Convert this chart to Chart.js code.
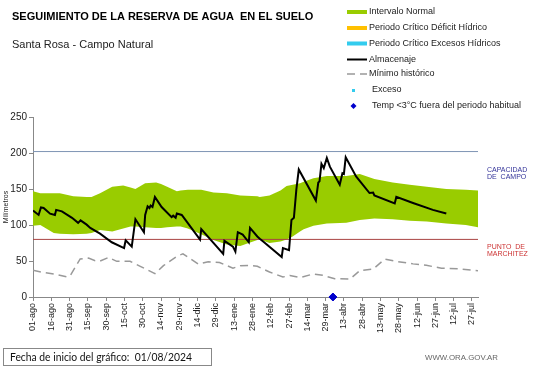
<!DOCTYPE html>
<html>
<head>
<meta charset="utf-8">
<script src="https://cdn.jsdelivr.net/npm/chart.js@4.4.1/dist/chart.umd.min.js"></script>
<style>
  html, body { margin: 0; padding: 0; background: #fff; }
</style>
</head>
<body>
<canvas id="chart" width="541" height="368"></canvas>
<script>
// eje x: dias desde 01/08/2024
const tickLabels = ['01-ago','16-ago','31-ago','15-sep','30-sep','15-oct','30-oct','14-nov','29-nov',
  '14-dic','29-dic','13-ene','28-ene','12-feb','27-feb','14-mar','29-mar','13-abr','28-abr',
  '13-may','28-may','12-jun','27-jun','12-jul','27-jul'];
const tickDays = tickLabels.map((_, i) => i * 15);

const capacidadCampo = 202;
const puntoMarchitez = 80;

// intervalo normal (banda verde)
const bandDays  = [0, 6, 17, 22, 33, 44, 48, 55, 65, 74, 80, 84, 92, 101, 105, 110, 118, 121, 127, 138, 148,
  159, 170, 184, 186, 194, 203, 208, 213, 219, 222, 230, 241, 257, 268, 280, 295, 309, 323, 339, 355, 365];
const bandUpper = [147, 144, 144, 144, 140, 139, 139, 144, 153, 155, 152, 150, 158, 159, 157, 153, 147, 148, 149, 149, 145,
  144, 141, 140, 139, 141, 148, 154, 156, 158, 160, 165, 168, 168, 171, 164, 159, 156, 153, 150, 149, 148];
const bandLower = [99, 100, 89, 88, 87, 88, 89, 93, 91, 95, 98, 98, 97, 96, 96, 97, 98, 98, 95, 87, 79,
  73, 71, 79, 80, 75, 77, 80, 84, 91, 94, 99, 102, 103, 107, 109, 108, 106, 105, 102, 100, 97];

// almacenaje
const almDays = [0, 4.6, 6.5, 8.7, 14, 18, 19, 23.7, 32, 37, 39, 44, 47, 55, 64.6, 74.7, 76, 81, 84, 91, 92, 94,
  95.5, 96.5, 98, 100, 105.5, 113.7, 115, 117, 118, 122, 137, 138, 156, 157, 164, 166, 168, 172, 177, 178, 184,
  186, 188.8, 204, 205, 210, 212, 214, 216, 218, 232, 234, 235, 236.6, 238.5, 241, 243.5, 251.6, 253.8, 255,
  256.5, 265, 276, 279, 280, 296.7, 298, 311.7, 328, 339];
const almValues = [120, 114, 124.5, 123.6, 115.7, 114, 121, 119, 110, 103, 106.5, 100.5, 96, 88, 76, 68, 78.7, 70, 108, 90, 114, 126,
  123.6, 127, 125, 139, 125, 111, 113, 110, 116, 114, 79.6, 94.4, 60, 78, 70, 63, 90, 86.6, 76, 96, 84,
  81, 77, 55.5, 68, 65, 107, 110, 149, 177, 134, 159, 160.6, 185, 179, 193, 181, 156, 172, 171,
  194, 167.5, 144.4, 145, 141, 130, 139, 130.5, 121, 116];

// minimo historico
const minDays = [0, 9, 17, 28, 30.5, 38.7, 45.5, 51, 55, 62, 68.7, 79.6, 88, 100, 107, 118, 123, 127, 135.5, 143.7,
  153, 164, 170, 178, 184, 194, 205, 210.7, 219, 230, 238, 247.5, 260, 268, 279, 288.5, 298, 311.7, 322.6, 335, 350, 365];
const minValues = [37, 34, 32, 28, 29.6, 52.8, 54, 50.5, 50, 55, 49.5, 49.5, 42.6, 32.4, 43.5, 56.5, 60, 55.5, 45.8, 49,
  48, 40, 43.5, 44, 42.6, 34.7, 27.7, 30, 27, 32, 30, 25.4, 25, 36.5, 38.8, 52.7, 49.5, 46, 44, 40, 39, 36.5];

// temp < 3°C fuera del periodo habitual
const frioDays = [246];
const frioValues = [0];

const FONT = '"Liberation Sans", Arial, sans-serif';

function pts(xs, ys) { return xs.map((x, i) => ({ x: x, y: ys[i] })); }

const textos = {
  id: 'textos',
  afterDraw(chart) {
    const ctx = chart.ctx;
    ctx.save();
    ctx.textBaseline = 'alphabetic';
    ctx.fillStyle = '#000';
    ctx.font = 'bold 11px ' + FONT;
    ctx.fillText('SEGUIMIENTO DE LA RESERVA DE AGUA  EN EL SUELO', 12, 20, 305);
    ctx.font = '11px ' + FONT;
    ctx.fillStyle = '#222';
    ctx.fillText('Santa Rosa - Campo Natural', 12, 48, 143);

    // leyenda
    ctx.font = '9px ' + FONT;
    ctx.textBaseline = 'middle';
    const leg = [
      { t: 'Intervalo Normal', k: 'box', c: '#99CC00', y: 12 },
      { t: 'Periodo Crítico Déficit Hídrico', k: 'box', c: '#FFC000', y: 28 },
      { t: 'Periodo Crítico Excesos Hídricos', k: 'box', c: '#33CCEE', y: 43.5 },
      { t: 'Almacenaje', k: 'line', c: '#000', y: 59.5 },
      { t: 'Mínimo histórico', k: 'dash', c: '#999', y: 74 },
      { t: 'Exceso', k: 'sq', c: '#33CCEE', y: 90 },
      { t: 'Temp <3°C fuera del periodo habitual', k: 'dia', c: '#0000CC', y: 106 }
    ];
    leg.forEach(function (l) {
      let tx = 369;
      if (l.k === 'box') {
        ctx.fillStyle = l.c;
        ctx.fillRect(347, l.y - 2, 20, 4);
      } else if (l.k === 'line' || l.k === 'dash') {
        ctx.strokeStyle = l.c;
        ctx.lineWidth = l.k === 'line' ? 2 : 1.5;
        ctx.setLineDash(l.k === 'dash' ? [8, 5] : []);
        ctx.beginPath(); ctx.moveTo(347, l.y); ctx.lineTo(367, l.y); ctx.stroke();
        ctx.setLineDash([]);
      } else if (l.k === 'sq') {
        ctx.fillStyle = l.c;
        ctx.fillRect(352, l.y - 1, 3, 3);
        tx = 372;
      } else {
        ctx.fillStyle = l.c;
        ctx.beginPath();
        ctx.moveTo(353.5, l.y - 3); ctx.lineTo(356.5, l.y); ctx.lineTo(353.5, l.y + 3); ctx.lineTo(350.5, l.y);
        ctx.closePath(); ctx.fill();
        tx = 372;
      }
      ctx.fillStyle = '#222';
      ctx.fillText(l.t, tx, l.y);
    });

    // referencias a la derecha
    ctx.font = '7px ' + FONT;
    ctx.fillStyle = '#333399';
    ctx.fillText('CAPACIDAD', 487, 170);
    ctx.fillText('DE  CAMPO', 487, 177);
    ctx.fillStyle = '#CC3333';
    ctx.fillText('PUNTO  DE', 487, 247);
    ctx.fillText('MARCHITEZ', 487, 254);

    // pie
    ctx.strokeStyle = '#888';
    ctx.lineWidth = 1;
    ctx.strokeRect(3.5, 348.5, 208, 17);
    ctx.fillStyle = '#111';
    ctx.font = '11px Lato, ' + FONT;
    ctx.fillText('Fecha de inicio del gráfico:  01/08/2024', 10, 357, 182);
    ctx.fillStyle = '#666';
    ctx.font = '8px ' + FONT;
    ctx.fillText('WWW.ORA.GOV.AR', 425, 358, 73);
    ctx.restore();
  }
};

new Chart(document.getElementById('chart'), {
  type: 'line',
  data: {
    datasets: [
      { label: 'Almacenaje', data: pts(almDays, almValues), borderColor: '#000', borderWidth: 2,
        pointRadius: 0, fill: false, order: 0 },
      { label: 'Temp <3°C fuera del periodo habitual', type: 'scatter', data: pts(frioDays, frioValues),
        pointStyle: 'rectRot', pointRadius: 4, backgroundColor: '#0000CC', borderColor: '#0000CC',
        clip: false, order: 0 },
      { label: 'Mínimo histórico', data: pts(minDays, minValues), borderColor: '#999', borderWidth: 1.5,
        borderDash: [8, 5], pointRadius: 0, fill: false, order: 1 },
      { label: 'Capacidad de campo', data: pts([0, 365], [capacidadCampo, capacidadCampo]), borderColor: '#7E94B4',
        borderWidth: 1, pointRadius: 0, fill: false, order: 2 },
      { label: 'Punto de marchitez', data: pts([0, 365], [puntoMarchitez, puntoMarchitez]), borderColor: '#A94442',
        borderWidth: 1, pointRadius: 0, fill: false, order: 2 },
      { label: 'lower', data: pts(bandDays, bandLower), borderWidth: 0, borderColor: 'rgba(0,0,0,0)',
        pointRadius: 0, fill: false, order: 3 },
      { label: 'Intervalo Normal', data: pts(bandDays, bandUpper), borderWidth: 0, borderColor: 'rgba(0,0,0,0)',
        backgroundColor: '#99CC00', pointRadius: 0, fill: 5, order: 3 }
    ]
  },
  options: {
    responsive: false,
    animation: false,
    layout: { padding: { top: 117, right: 63, left: 0, bottom: 0 } },
    plugins: { legend: { display: false }, tooltip: { enabled: false } },
    scales: {
      x: {
        type: 'linear', min: 0, max: 365,
        afterBuildTicks: function (s) { s.ticks = tickDays.map(v => ({ value: v })); },
        afterFit: function (s) { s.height = 71; },
        ticks: {
          autoSkip: false, maxRotation: 90, minRotation: 90, padding: 2, color: '#222',
          font: { family: FONT, size: 9 },
          callback: function (v, i) { return tickLabels[i]; }
        },
        grid: { drawOnChartArea: false, tickLength: 4, color: '#888' },
        border: { color: '#888' }
      },
      y: {
        min: 0, max: 250,
        afterFit: function (s) { s.width = 33; },
        ticks: { stepSize: 50, padding: 2, color: '#222', font: { family: FONT, size: 10 } },
        grid: { drawOnChartArea: false, tickLength: 4, color: '#888' },
        border: { color: '#888' },
        title: { display: true, text: 'Milímetros', color: '#222', font: { family: FONT, size: 7 },
          padding: { top: 2, bottom: 0 } }
      }
    }
  },
  plugins: [textos]
});
</script>
</body>
</html>
